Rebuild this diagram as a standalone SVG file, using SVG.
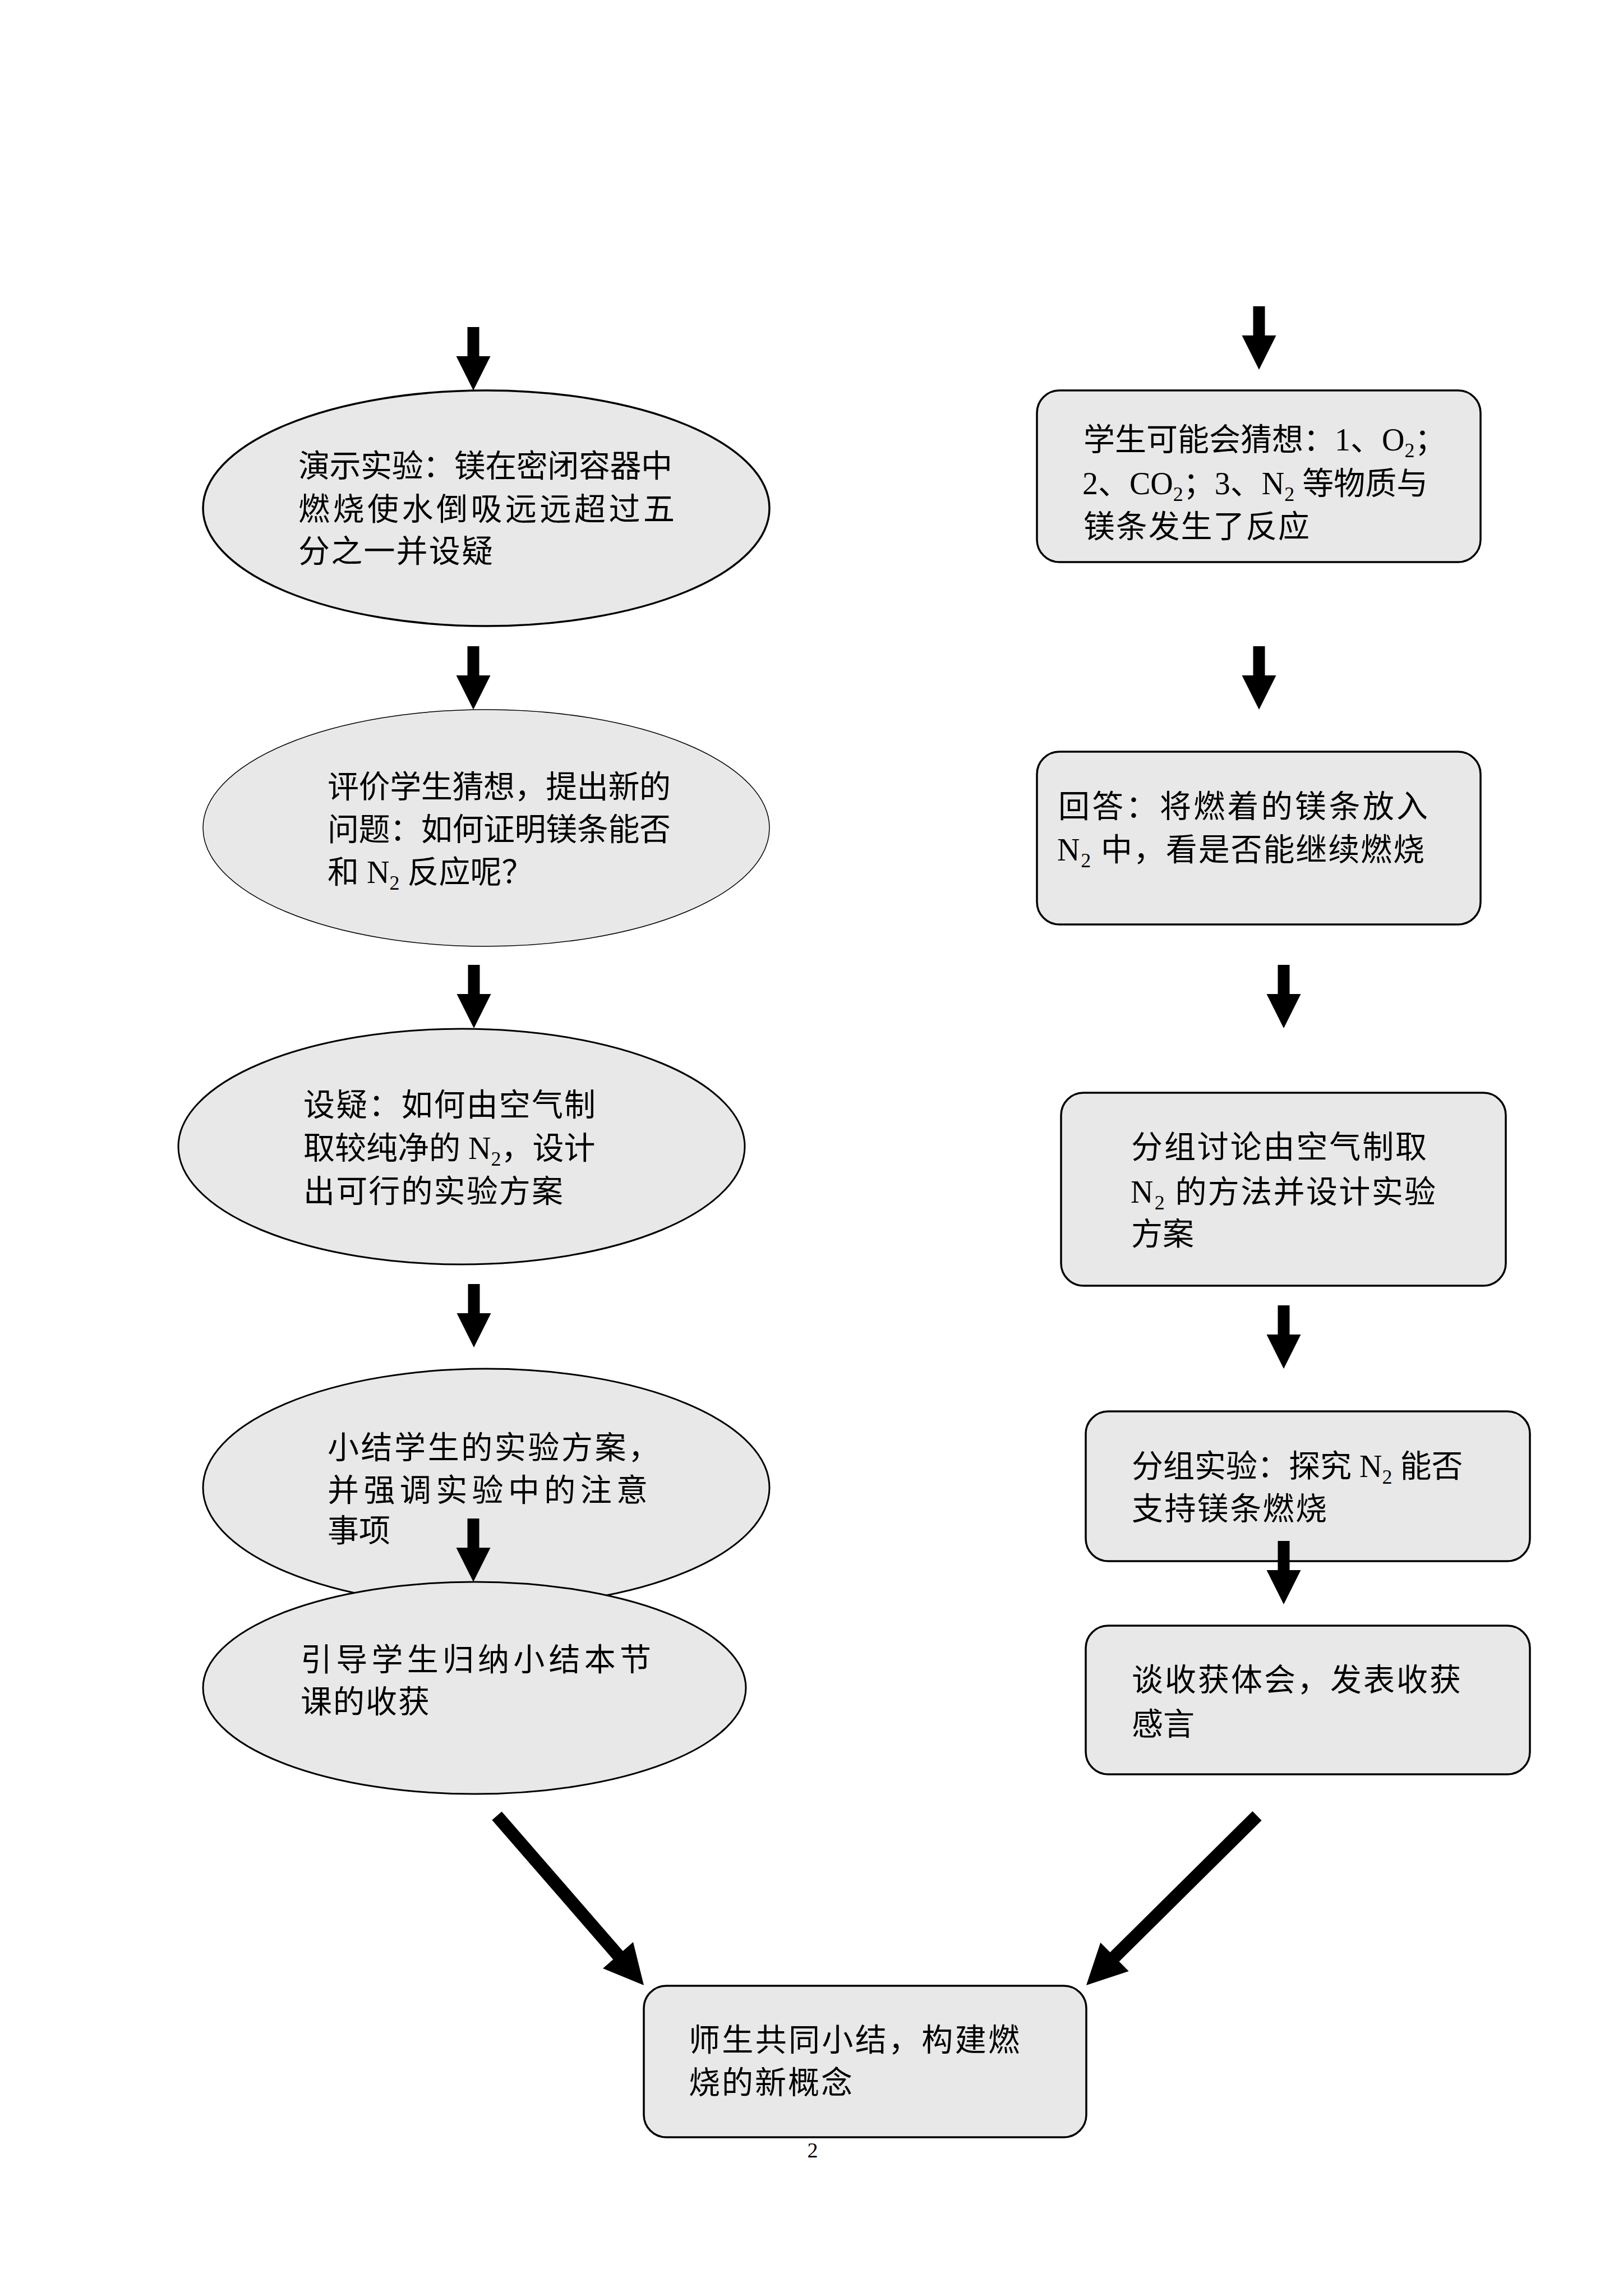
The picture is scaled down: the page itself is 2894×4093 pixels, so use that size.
<svg xmlns="http://www.w3.org/2000/svg" width="2894" height="4093" viewBox="0 0 2894 4093">
<style>
.bg{fill:#ffffff}
.node{fill:#e8e8e8;stroke:#000000}
.thick{stroke-width:3.5}
.mid{stroke-width:3}
.thin{stroke-width:1.5}
.t{font-family:"Liberation Serif","Noto Sans CJK SC",serif;font-size:56px;fill:#000000}
.pg{font-family:"Liberation Serif","Noto Sans CJK SC",serif;font-size:38px;fill:#000000}
.arrow{fill:#000000;stroke:none}
</style>
<defs>
<path id="down" d="M-10.5,0 H10.5 V52 H30.5 L0,113 L-30.5,52 H-10.5 Z"/>
</defs>
<rect class="bg" x="0" y="0" width="2894" height="4093"/>

<g id="node-demo">
<ellipse class="node thick" cx="867" cy="906" rx="505" ry="210"/>
<text class="t" x="532" y="850" textLength="667" lengthAdjust="spacing">演示实验：镁在密闭容器中</text>
<text class="t" x="532" y="927" textLength="671" lengthAdjust="spacing">燃烧使水倒吸远远超过五</text>
<text class="t" x="532" y="1002" textLength="347" lengthAdjust="spacing">分之一并设疑</text>
</g>

<g id="node-evaluate">
<ellipse class="node thin" cx="867" cy="1476" rx="505" ry="211"/>
<text class="t" x="584" y="1422" textLength="612" lengthAdjust="spacing">评价学生猜想，提出新的</text>
<text class="t" x="584" y="1498" textLength="612" lengthAdjust="spacing">问题：如何证明镁条能否</text>
<text class="t" x="584" y="1574">和 N<tspan font-size="36" dy="12">2</tspan><tspan dy="-12"> 反应呢？</tspan></text>
</g>

<g id="node-question">
<ellipse class="node mid" cx="823" cy="2044" rx="505" ry="210"/>
<text class="t" x="541" y="1989" textLength="521" lengthAdjust="spacing">设疑：如何由空气制</text>
<text class="t" x="541" y="2066">取较纯净的 N<tspan font-size="36" dy="12">2</tspan><tspan dy="-12">，设计</tspan></text>
<text class="t" x="541" y="2143" textLength="463" lengthAdjust="spacing">出可行的实验方案</text>
</g>

<g id="node-summary-plan">
<ellipse class="node mid" cx="867" cy="2652" rx="505" ry="212"/>
<text class="t" x="584" y="2600" textLength="592" lengthAdjust="spacing">小结学生的实验方案，</text>
<text class="t" x="584" y="2676" textLength="571" lengthAdjust="spacing">并强调实验中的注意</text>
<text class="t" x="584" y="2748">事项</text>
</g>

<g id="node-guide">
<ellipse class="node mid" cx="846" cy="3009" rx="484" ry="189"/>
<text class="t" x="536" y="2978" textLength="625" lengthAdjust="spacing">引导学生归纳小结本节</text>
<text class="t" x="536" y="3053" textLength="230" lengthAdjust="spacing">课的收获</text>
</g>

<g id="node-guess">
<rect class="node thick" x="1849" y="696" width="791" height="306" rx="40" ry="40"/>
<text class="t" x="1932" y="803">学生可能会猜想：1、O<tspan font-size="36" dy="12">2</tspan><tspan dy="-12">；</tspan></text>
<text class="t" x="1930" y="881">2、CO<tspan font-size="36" dy="12">2</tspan><tspan dy="-12">；3、N</tspan><tspan font-size="36" dy="12">2</tspan><tspan dy="-12"> 等物质与</tspan></text>
<text class="t" x="1932" y="958" textLength="403" lengthAdjust="spacing">镁条发生了反应</text>
</g>

<g id="node-answer">
<rect class="node thick" x="1849" y="1340" width="791" height="308" rx="40" ry="40"/>
<text class="t" x="1887" y="1457" textLength="659" lengthAdjust="spacing">回答：将燃着的镁条放入</text>
<text class="t" x="1885" y="1534" textLength="655" lengthAdjust="spacing">N<tspan font-size="36" dy="12">2</tspan><tspan dy="-12"> 中，看是否能继续燃烧</tspan></text>
</g>

<g id="node-discuss">
<rect class="node thick" x="1892" y="1948" width="793" height="344" rx="40" ry="40"/>
<text class="t" x="2017" y="2064" textLength="527" lengthAdjust="spacing">分组讨论由空气制取</text>
<text class="t" x="2016" y="2144" textLength="544" lengthAdjust="spacing">N<tspan font-size="36" dy="12">2</tspan><tspan dy="-12"> 的方法并设计实验</tspan></text>
<text class="t" x="2017" y="2219">方案</text>
</g>

<g id="node-experiment">
<rect class="node thick" x="1936" y="2516" width="792" height="267" rx="40" ry="40"/>
<text class="t" x="2018" y="2633">分组实验：探究 N<tspan font-size="36" dy="12">2</tspan><tspan dy="-12"> 能否</tspan></text>
<text class="t" x="2018" y="2709" textLength="348" lengthAdjust="spacing">支持镁条燃烧</text>
</g>

<g id="node-harvest">
<rect class="node thick" x="1936" y="2898" width="792" height="265" rx="40" ry="40"/>
<text class="t" x="2018" y="3014" textLength="587" lengthAdjust="spacing">谈收获体会，发表收获</text>
<text class="t" x="2018" y="3093">感言</text>
</g>

<g id="node-conclusion">
<rect class="node thick" x="1148" y="3540" width="789" height="270" rx="40" ry="40"/>
<text class="t" x="1228" y="3656" textLength="590" lengthAdjust="spacing">师生共同小结，构建燃</text>
<text class="t" x="1228" y="3732" textLength="292" lengthAdjust="spacing">烧的新概念</text>
</g>

<g id="connectors" class="arrow">
<use href="#down" x="844" y="583"/>
<use href="#down" x="844" y="1152"/>
<use href="#down" x="845" y="1720"/>
<use href="#down" x="845" y="2289"/>
<use href="#down" x="844" y="2707"/>
<use href="#down" x="2245" y="546"/>
<use href="#down" x="2245" y="1152"/>
<use href="#down" x="2289" y="1720"/>
<use href="#down" x="2289" y="2327"/>
<use href="#down" x="2289" y="2747"/>
<polygon points="894.7,3229.5 1110.7,3478 1129,3462 1148,3539 1075,3509 1093.3,3493 877.3,3244.5"/>
<polygon points="2233.4,3228.8 2249.6,3245.2 1995.6,3496.7 2012.7,3513.9 1937,3539 1962.3,3463.1 1979.4,3480.3"/>
</g>

<text class="pg" x="1449" y="3846" text-anchor="middle">2</text>
</svg>
